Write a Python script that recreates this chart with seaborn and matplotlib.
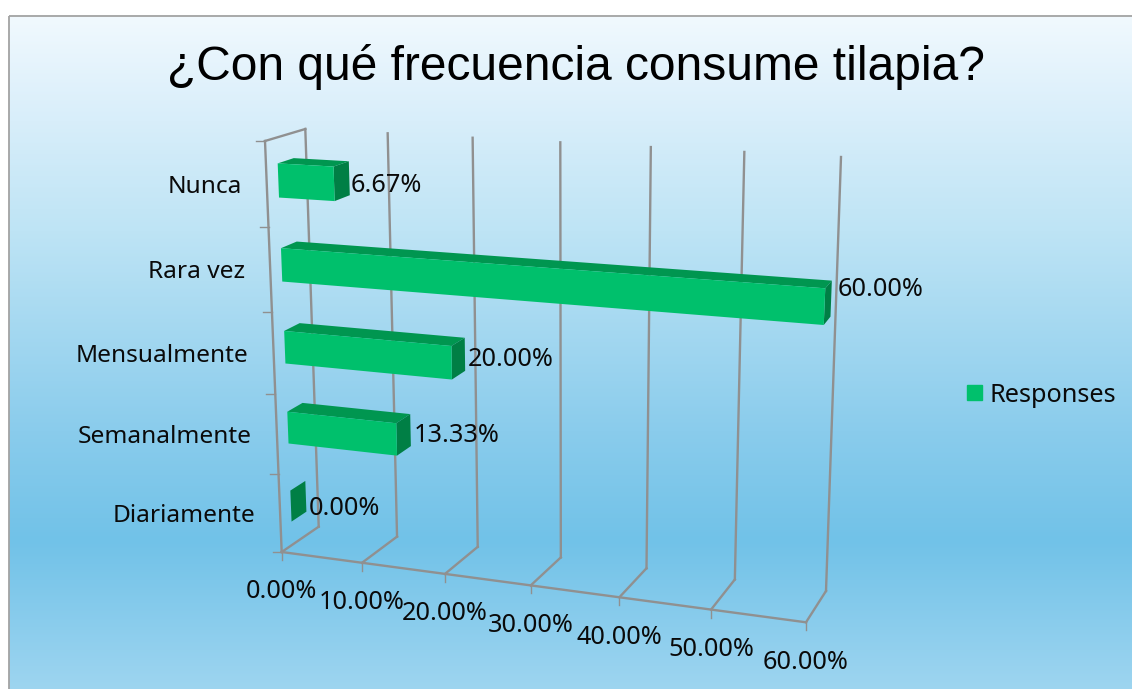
import numpy as np
import pandas as pd
import matplotlib
matplotlib.use("Agg")
import matplotlib.pyplot as plt
import seaborn as sns
from matplotlib.patches import Patch, Rectangle
from matplotlib.transforms import Transform

# ---------- data ----------
categories = ["Nunca", "Rara vez", "Mensualmente", "Semanalmente", "Diariamente"]
values = [6.67, 60.00, 20.00, 13.33, 0.00]
value_ticks = [0, 10, 20, 30, 40, 50, 60]
title = "¿Con qué frecuencia consume tilapia?"
series_name = "Responses"

# ---------- style ----------
FRONT, TOP, SIDE = "#00C06C", "#009650", "#007F45"
GRID = "#909090"
BORDER = "#A3A3A3"
TEXT = "#0A0A0A"
LABEL_FONT = ["Noto Sans", "DejaVu Sans"]
FS = 18.2
FS_CAT = 17.6
BAR_DEPTH = (0.29, 0.69)
# pixel offsets of the value labels from the end of the bar
LABEL_DX = [1, 6, 3, 3, 3]
LABEL_DY = [7.5, -9, 5, 5, 12]

W, H = 1132, 689

# ---------- oblique projection of the 3-D box into figure pixels ----------
def homography(src, dst):
    A, b = [], []
    for (x, y), (X, Y) in zip(src, dst):
        A.append([x, y, 1, 0, 0, 0, -x * X, -y * X]); b.append(X)
        A.append([0, 0, 0, x, y, 1, -x * Y, -y * Y]); b.append(Y)
    return np.append(np.linalg.solve(np.array(A, float), np.array(b, float)), 1).reshape(3, 3)

SRC = [(0, 0), (60, 0), (60, 5), (0, 5)]
H_FRONT = homography(SRC, [(281.7, 552), (806, 622.3), (826, 170), (265, 141)])
H_BACK = homography(SRC, [(318.7, 526.7), (826, 591), (841, 157), (305.3, 129)])

def _apply(M, v, u):
    p = M @ np.vstack([v, u, np.ones_like(v)])
    return (p[:2] / p[2]).T

def project(v, u, d):
    v, u = np.broadcast_arrays(np.atleast_1d(np.asarray(v, float)),
                               np.atleast_1d(np.asarray(u, float)))
    return (1 - d) * _apply(H_FRONT, v, u) + d * _apply(H_BACK, v, u)

class Perspective(Transform):
    input_dims = output_dims = 2
    is_separable = False
    def __init__(self, plane):
        super().__init__()
        self.plane = plane
    def transform_non_affine(self, xy):
        xy = np.asarray(xy, float)
        return project(xy[:, 0], 4.5 - xy[:, 1], self.plane)

# ---------- figure ----------
sns.set_theme(style="white")
fig = plt.figure(figsize=(W / 100, H / 100), dpi=100, facecolor="white")
ax = fig.add_axes([0, 0, 1, 1])

df = pd.DataFrame({"freq": categories, "pct": values})
sns.barplot(data=df, x="pct", y="freq", order=categories, color=FRONT,
            saturation=1, width=0.4, ax=ax, zorder=4)
ax.set_xlim(0, W)
ax.set_ylim(H, 0)
ax.axis("off")

# background gradient
ys = np.arange(15, H)
stops_y = [15, 120, 230, 430, 540, 689]
stops = np.array([[241, 249, 254], [216, 238, 250], [190, 228, 245],
                  [138, 204, 236], [113, 194, 232], [158, 213, 240]]) / 255
grad = np.stack([np.interp(ys, stops_y, stops[:, i]) for i in range(3)], axis=1)[:, None, :]
ax.imshow(grad, extent=(9, W, H, 15), aspect="auto", zorder=0)
ax.set_xlim(0, W)
ax.set_ylim(H, 0)
ax.add_patch(Rectangle((8.5, 15.5), W, H, fill=False, ec=BORDER, lw=1.3, zorder=1))

# walls and gridlines
lw = 1.7
def line(p, q, z=2, width=lw):
    ax.plot([p[0], q[0]], [p[1], q[1]], color=GRID, lw=width, zorder=z,
            solid_capstyle="projecting")

for t in value_ticks:
    b0 = project(t, 0, 0)[0]; b1 = project(t, 0, 1)[0]; t1 = project(t, 5, 1)[0]
    line(b0, b1); line(b1, t1)
    line(b0, b0 + [0, 8], width=1)
    ax.text(b0[0], b0[1] + 40, f"{t:.2f}%", ha="center", va="center", fontsize=FS,
            family=LABEL_FONT, color=TEXT, zorder=6)
line(project(0, 0, 0)[0], project(60, 0, 0)[0])
line(project(0, 0, 0)[0], project(0, 5, 0)[0])
line(project(0, 5, 0)[0], project(0, 5, 1)[0])
for u in range(6):
    p = project(0, u, 0)[0]
    line(p, p - [9, 0], width=1)

# bars: seaborn draws the front faces, then every face goes through the projection
d0, d1 = BAR_DEPTH
front = Perspective(d0)
for i, patch in enumerate(ax.containers[0]):
    patch.set_transform(front + ax.transData)
    patch.set_clip_on(False)
    patch.set_edgecolor("none")
    val = patch.get_width()
    y_top, y_bot = patch.get_y(), patch.get_y() + patch.get_height()
    u_top, u_bot = 4.5 - y_top, 4.5 - y_bot
    top = np.vstack([project([0, val], u_top, d0), project([val, 0], u_top, d1)])
    side = np.vstack([project(val, [u_top, u_bot], d0), project(val, [u_bot, u_top], d1)])
    ax.fill(top[:, 0], top[:, 1], color=TOP, lw=0, zorder=3)
    ax.fill(side[:, 0], side[:, 1], color=SIDE, lw=0, zorder=3.5)
    end = project(val, 4.5 - i, d1)[0]
    ax.text(end[0] + LABEL_DX[i], end[1] + LABEL_DY[i], f"{val:.2f}%", ha="left", va="center",
            fontsize=FS, family=LABEL_FONT, color=TEXT, zorder=6)
    lab = project(0, 4.5 - i, 0)[0]
    ax.text(lab[0] - 25, lab[1] + 2.5, categories[i], ha="right", va="center",
            fontsize=FS_CAT, family=LABEL_FONT, color=TEXT, zorder=6)

ax.text(576, 67, title, ha="center", va="center", fontsize=34.5,
        family="Liberation Sans", color="#000000", zorder=6)

ax.legend(handles=[Patch(color=FRONT, label=series_name)], frameon=False,
          loc="center left", bbox_to_anchor=(967, 395), bbox_transform=ax.transData,
          prop={"family": LABEL_FONT, "size": FS}, labelcolor=TEXT,
          handlelength=0.58, handleheight=0.58, handletextpad=0.32,
          borderpad=0, borderaxespad=0)

fig.savefig("out.png", dpi=100)
